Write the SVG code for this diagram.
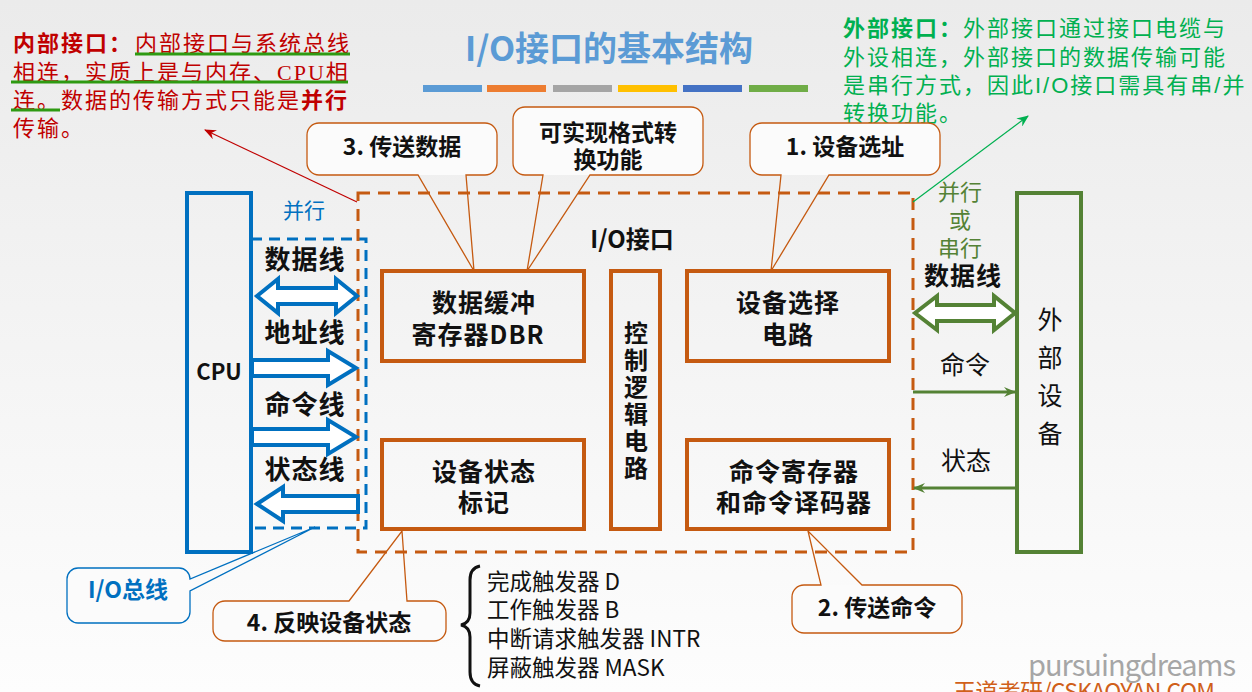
<svg xmlns="http://www.w3.org/2000/svg" width="1252" height="692" viewBox="0 0 1252 692">
<defs>
<linearGradient id="bg" x1="0" y1="0" x2="0" y2="1">
<stop offset="0" stop-color="#ebebeb"/>
<stop offset="1" stop-color="#fdfdfd"/>
</linearGradient>
<marker id="ag" viewBox="0 0 12 10" refX="11" refY="5" markerWidth="12" markerHeight="10" markerUnits="userSpaceOnUse" orient="auto">
<path d="M0,0 L12,5 L0,10 L4,5 Z" fill="#548235"/>
</marker>
<marker id="ar" viewBox="0 0 12 10" refX="11" refY="5" markerWidth="12" markerHeight="10" markerUnits="userSpaceOnUse" orient="auto">
<path d="M0,0 L12,5 L0,10 L4,5 Z" fill="#c00000"/>
</marker>
<marker id="agr" viewBox="0 0 12 10" refX="11" refY="5" markerWidth="12" markerHeight="10" markerUnits="userSpaceOnUse" orient="auto">
<path d="M0,0 L12,5 L0,10 L4,5 Z" fill="#00b050"/>
</marker>
<style>
text{font-family:"Noto Sans CJK SC","Liberation Sans",sans-serif;}
.lbl{font-size:25px;letter-spacing:1px;font-weight:bold;fill:#111;text-anchor:middle;}
.bl{font-size:26px;letter-spacing:1px;font-weight:bold;fill:#111;text-anchor:middle;}
.co{font-size:23px;font-weight:bold;fill:#111;text-anchor:middle;}
.box{fill:none;stroke:#c55a11;stroke-width:4;}
.cof{fill:#fbfbfb;stroke:none;}
.col{fill:none;stroke:#c55a11;stroke-width:1.3;}
.bar{stroke:none;}
.rd{font-family:"Liberation Serif","Noto Sans CJK SC",serif;font-size:22px;letter-spacing:2px;fill:#c00000;}
.gd{font-family:"Liberation Sans","Noto Sans CJK SC",sans-serif;font-size:22px;letter-spacing:2px;fill:#00b050;}
.ul{stroke:#2e9a12;stroke-width:3;}
.barr{fill:#fff;stroke:#0070c0;stroke-width:4;stroke-linejoin:miter;}
.garr{fill:#fff;stroke:#548235;stroke-width:4;stroke-linejoin:miter;}
.gl{stroke:#548235;stroke-width:3;fill:none;}
.lst{font-size:22.5px;fill:#111;}
</style>
</defs>
<rect x="0" y="0" width="1252" height="692" fill="url(#bg)"/>

<g id="title">
<text x="609" y="61" font-size="34" font-weight="bold" fill="#5b9bd5" text-anchor="middle">I/O接口的基本结构</text>
<rect class="bar" x="423" y="85" width="59" height="7" fill="#5b9bd5"/>
<rect class="bar" x="487" y="85" width="59" height="7" fill="#ed7d31"/>
<rect class="bar" x="553" y="85" width="59" height="7" fill="#a5a5a5"/>
<rect class="bar" x="618" y="85" width="59" height="7" fill="#ffc000"/>
<rect class="bar" x="683" y="85" width="59" height="7" fill="#4472c4"/>
<rect class="bar" x="749" y="85" width="59" height="7" fill="#70ad47"/>
</g>

<g id="internal-note">
<text class="rd" x="13" y="51" font-weight="bold">内部接口：</text>
<text class="rd" x="135" y="51">内部接口与系统总线</text>
<text class="rd" x="13" y="80">相连，实质上是与内存、CPU相</text>
<text class="rd" x="13" y="108">连。数据的传输方式只能是<tspan font-weight="bold">并行</tspan></text>
<text class="rd" x="13" y="136">传输。</text>
<line class="ul" x1="135" y1="54" x2="350" y2="54"/>
<line class="ul" x1="11" y1="82" x2="348" y2="82"/>
<line class="ul" x1="11" y1="110" x2="60" y2="110"/>
</g>

<g id="external-note">
<text class="gd" x="843" y="36"><tspan font-weight="bold">外部接口：</tspan>外部接口通过接口电缆与</text>
<text class="gd" x="843" y="65">外设相连，外部接口的数据传输可能</text>
<text class="gd" x="843" y="93">是串行方式，因此I/O接口需具有串/并</text>
<text class="gd" x="843" y="121">转换功能。</text>
</g>

<g id="callouts">
<rect class="cof" x="307" y="123" width="190" height="52" rx="12"/>
<path class="col" d="M319,123 H485 A12,12 0 0 1 497,135 V163 A12,12 0 0 1 485,175 H466 L474,271 L418,175 H319 A12,12 0 0 1 307,163 V135 A12,12 0 0 1 319,123 Z"/>
<text class="co" x="402" y="155">3. 传送数据</text>

<rect class="cof" x="513" y="107" width="190" height="68" rx="12"/>
<path class="col" d="M525,107 H691 A12,12 0 0 1 703,119 V163 A12,12 0 0 1 691,175 H590 L527,271 L543,175 H525 A12,12 0 0 1 513,163 V119 A12,12 0 0 1 525,107 Z"/>
<text class="co" x="608" y="141">可实现格式转</text>
<text class="co" x="608" y="168">换功能</text>

<rect class="cof" x="750" y="123" width="190" height="52" rx="12"/>
<path class="col" d="M762,123 H928 A12,12 0 0 1 940,135 V163 A12,12 0 0 1 928,175 H829 L771,271 L781,175 H762 A12,12 0 0 1 750,163 V135 A12,12 0 0 1 762,123 Z"/>
<text class="co" x="845" y="155">1. 设备选址</text>

<rect class="cof" x="213" y="601" width="233" height="40" rx="12"/>
<path class="col" d="M225,601 H349 L402,531 L407,601 H434 A12,12 0 0 1 446,613 V629 A12,12 0 0 1 434,641 H225 A12,12 0 0 1 213,629 V613 A12,12 0 0 1 225,601 Z"/>
<text class="co" x="329" y="631">4. 反映设备状态</text>

<rect class="cof" x="792" y="585" width="170" height="48" rx="12"/>
<path class="col" d="M804,585 H821 L808,531 L862,585 H950 A12,12 0 0 1 962,597 V621 A12,12 0 0 1 950,633 H804 A12,12 0 0 1 792,621 V597 A12,12 0 0 1 804,585 Z"/>
<text class="co" x="877" y="616">2. 传送命令</text>

<rect class="cof" x="67" y="568" width="123" height="55" rx="11"/>
<path fill="none" stroke="#0070c0" stroke-width="1.3" d="M78,568 H179 A11,11 0 0 1 190,579 L315,527 L190,591 V612 A11,11 0 0 1 179,623 H78 A11,11 0 0 1 67,612 V579 A11,11 0 0 1 78,568 Z"/>
<text x="128" y="598" font-size="23" font-weight="bold" fill="#0070c0" text-anchor="middle">I/O总线</text>
</g>

<g id="cpu">
<rect x="187" y="193" width="64" height="359" fill="none" stroke="#0070c0" stroke-width="4"/>
<text x="219" y="380" font-size="22" font-weight="bold" fill="#111" text-anchor="middle">CPU</text>
</g>

<g id="io-bus">
<rect x="251" y="239" width="115" height="289" fill="none" stroke="#0070c0" stroke-width="3" stroke-dasharray="11,7"/>
<text x="304" y="218" font-size="21" fill="#0070c0" text-anchor="middle">并行</text>
<text class="bl" x="305" y="269">数据线</text>
<text class="bl" x="305" y="342">地址线</text>
<text class="bl" x="305" y="414">命令线</text>
<text class="bl" x="305" y="479">状态线</text>
</g>

<g id="io-interface">
<rect x="358" y="193" width="555" height="359" fill="none" stroke="#c55a11" stroke-width="3" stroke-dasharray="12,8"/>
<text x="632" y="248" font-size="24" font-weight="bold" fill="#111" text-anchor="middle">I/O接口</text>
</g>

<g id="dbr">
<rect class="box" x="382" y="271" width="202" height="90"/>
<text class="lbl" x="484" y="312">数据缓冲</text>
<text class="lbl" x="478" y="344">寄存器DBR</text>
</g>

<g id="ctrl">
<rect class="box" x="611" y="271" width="49" height="258"/>
<text x="636" y="342" font-size="24" font-weight="bold" fill="#111" text-anchor="middle">控<tspan x="636" dy="27">制</tspan><tspan x="636" dy="27">逻</tspan><tspan x="636" dy="27">辑</tspan><tspan x="636" dy="27">电</tspan><tspan x="636" dy="27">路</tspan></text>
</g>

<g id="dev-select">
<rect class="box" x="687" y="271" width="202" height="90"/>
<text class="lbl" x="788" y="312">设备选择</text>
<text class="lbl" x="788" y="344">电路</text>
</g>

<g id="dev-status">
<rect class="box" x="382" y="440" width="202" height="89"/>
<text class="lbl" x="484" y="481">设备状态</text>
<text class="lbl" x="484" y="512">标记</text>
</g>

<g id="cmd-reg">
<rect class="box" x="687" y="440" width="202" height="89"/>
<text class="lbl" x="794" y="481">命令寄存器</text>
<text class="lbl" x="794" y="512">和命令译码器</text>
</g>

<g id="external-device">
<rect x="1017" y="193" width="64" height="359" fill="none" stroke="#548235" stroke-width="4"/>
<text x="1050" y="329" font-size="25" fill="#111" text-anchor="middle">外<tspan x="1050" dy="38">部</tspan><tspan x="1050" dy="38">设</tspan><tspan x="1050" dy="38">备</tspan></text>
</g>

<g id="right-labels">
<text x="960" y="200" font-size="22" fill="#548235" text-anchor="middle">并行</text>
<text x="960" y="228" font-size="22" fill="#548235" text-anchor="middle">或</text>
<text x="960" y="256" font-size="22" fill="#548235" text-anchor="middle">串行</text>
<text class="lbl" x="963" y="285">数据线</text>
<text x="965" y="374" font-size="25" fill="#111" text-anchor="middle">命令</text>
<text x="966" y="470" font-size="25" fill="#111" text-anchor="middle">状态</text>
</g>

<g id="connectors">
<polygon class="barr" points="257,296 278,279 278,288 336,288 336,279 357,296 336,313 336,304 278,304 278,313"/>
<polygon class="barr" points="252,360 328,360 328,351 356,368 328,385 328,376 252,376"/>
<polygon class="barr" points="252,429 328,429 328,420 356,437 328,454 328,445 252,445"/>
<polygon class="barr" points="257,504 283,487 283,496 358,496 358,512 283,512 283,521"/>
<polygon class="garr" points="915,313 937,296 937,305 994,305 994,296 1015,313 994,330 994,321 937,321 937,330"/>
<line class="gl" x1="913" y1="392" x2="1015" y2="392" marker-end="url(#ag)"/>
<line class="gl" x1="1015" y1="488" x2="914" y2="488" marker-end="url(#ag)"/>
<line x1="357" y1="202" x2="205" y2="130" stroke="#c00000" stroke-width="1.2" marker-end="url(#ar)"/>
<line x1="913" y1="202" x2="1028" y2="116" stroke="#00b050" stroke-width="1.2" marker-end="url(#agr)"/>
</g>

<g id="flags">
<path d="M480,566 Q470,568 470,580 V613 Q470,623 461,625 Q470,627 470,637 V672 Q470,684 480,686" fill="none" stroke="#111" stroke-width="3"/>
<text class="lst" x="487" y="590">完成触发器 D</text>
<text class="lst" x="487" y="618">工作触发器 B</text>
<text class="lst" x="487" y="647">中断请求触发器 INTR</text>
<text class="lst" x="487" y="676">屏蔽触发器 MASK</text>
</g>

<g id="watermark">
<text x="1028" y="676" font-family="Liberation Sans, sans-serif" font-size="29" fill="#a6a6a6" textLength="208">pursuingdreams</text>
<text x="953" y="700" font-size="23" fill="#d0601a" textLength="262">王道考研/CSKAOYAN.COM</text>
</g>
</svg>
